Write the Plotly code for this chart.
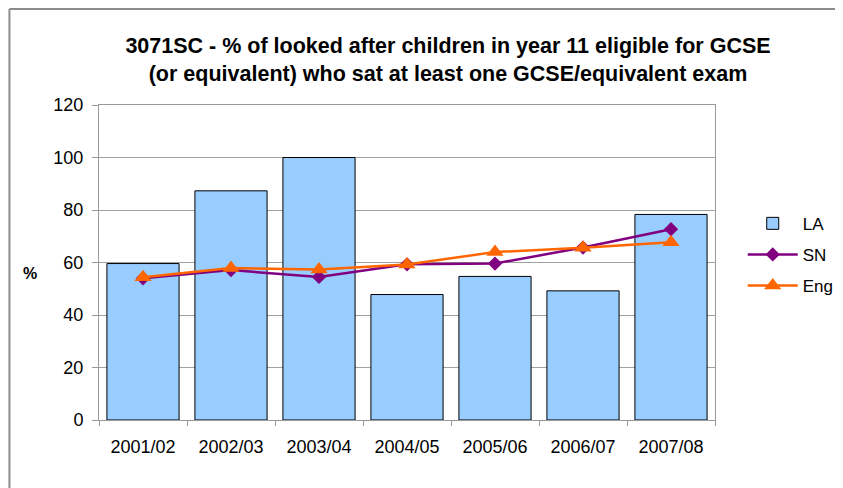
import plotly.graph_objects as go

categories = ["2001/02", "2002/03", "2003/04", "2004/05", "2005/06", "2006/07", "2007/08"]
la_values = [59.6, 87.3, 100.0, 47.8, 54.7, 49.2, 78.3]
sn_values = [54.0, 57.1, 54.5, 59.3, 59.6, 65.7, 72.7]
eng_values = [54.4, 57.9, 57.3, 59.2, 64.0, 65.6, 67.7]
y_ticks = [0, 20, 40, 60, 80, 100, 120]

FONT = "Liberation Sans, Arial, sans-serif"

# plot area in figure pixels
L, T, PW, PH = 91, 97, 619, 315

fig = go.Figure()
fig.add_trace(go.Bar(
    x=categories, y=la_values, name="LA", legendgroup="a",
    marker=dict(color="#99ccff", line=dict(color="#000000", width=1)),
))
fig.add_trace(go.Scatter(
    x=categories, y=sn_values, name="SN", mode="lines+markers", legendgroup="b",
    line=dict(color="#800080", width=2.5),
    marker=dict(symbol="diamond", size=11, color="#800080"),
))
fig.add_trace(go.Scatter(
    x=categories, y=eng_values, name="Eng", mode="lines+markers", legendgroup="c",
    line=dict(color="#ff6600", width=2.5),
    marker=dict(symbol="triangle-up", size=15, color="#ff6600"),
))

fig.update_layout(
    width=843, height=488,
    margin=dict(l=L, r=843 - L - PW, t=T, b=488 - T - PH),
    paper_bgcolor="white", plot_bgcolor="white",
    font=dict(family=FONT, size=18, color="#000000"),
    bargap=0.18,
    title=dict(
        text="<b>3071SC - % of looked after children in year 11 eligible for GCSE<br>(or equivalent) who sat at least one GCSE/equivalent exam</b>",
        x=440 / 843, xanchor="center", xref="container",
        y=1 - 45 / 488, yanchor="middle", yref="container",
        font=dict(family=FONT, size=21.5, color="#000000"),
    ),
    legend=dict(
        x=1.045, xanchor="left", y=0.68, yanchor="top",
        font=dict(family=FONT, size=17),
        tracegroupgap=6, itemwidth=50,
        bgcolor="rgba(0,0,0,0)",
    ),
    showlegend=True,
)

fig.update_xaxes(
    type="category", showgrid=False,
    showline=True, linecolor="#9a9a9a", linewidth=1, mirror=True,
    ticks="outside", tickson="boundaries", ticklen=5, tickcolor="#9a9a9a",
    tickfont=dict(family=FONT, size=18), ticklabelstandoff=10,
)
fig.update_yaxes(
    range=[0, 120], tickvals=y_ticks, ticktext=[str(v) for v in y_ticks],
    showgrid=True, gridcolor="#a0a0a0", gridwidth=1,
    showline=True, linecolor="#9a9a9a", linewidth=1, mirror=True,
    ticks="outside", ticklen=6, tickcolor="#9a9a9a",
    tickfont=dict(family=FONT, size=18), zeroline=False, ticklabelstandoff=5,
)

fig.add_annotation(
    text="<b>%</b>", xref="paper", yref="paper",
    x=(13 - L) / PW, y=(T + PH - 265) / PH, showarrow=False,
    font=dict(family=FONT, size=16, color="#000000"),
)

# outer chart border (top and left edges visible in the reference)
fig.add_shape(
    type="line", xref="paper", yref="paper",
    x0=(1 - L) / PW, x1=(900 - L) / PW,
    y0=(T + PH - 1) / PH, y1=(T + PH - 1) / PH,
    line=dict(color="#8c8c8c", width=2), layer="below",
)
fig.add_shape(
    type="line", xref="paper", yref="paper",
    x0=(1 - L) / PW, x1=(1 - L) / PW,
    y0=(T + PH - 1) / PH, y1=(T + PH - 600) / PH,
    line=dict(color="#8c8c8c", width=2), layer="below",
)

fig.write_html("out.html")
